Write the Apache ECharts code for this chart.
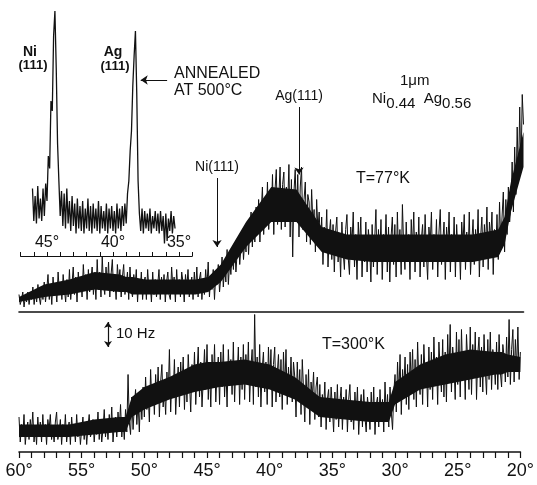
<!DOCTYPE html>
<html>
<head>
<meta charset="utf-8">
<script src="https://cdn.jsdelivr.net/npm/echarts@6/dist/echarts.min.js"></script>
<style>
  html, body { margin: 0; padding: 0; background: #fff; }
  #chart { width: 537px; height: 485px; }
</style>
</head>
<body>
<div id="chart"></div>
<script>
// recorder traces, 2-theta in degrees, sampled every 0.1 deg from 60 deg down
const scanStart = 60
const scanStep = 0.1

// T = 300 K, counting rate (Hz), one row per degree
const rate300 = [
  14, 4, 11, 6, 15, 3, 9, 12, 5, 13,
  8, 16, 4, 10, 3, 14, 7, 12, 4, 15,
  6, 11, 3, 13, 9, 15, 5, 10, 4, 12,
  16, 5, 8, 13, 3, 11, 6, 15, 4, 9,
  12, 3, 14, 7, 10, 4, 15, 6, 11, 3,
  9, 14, 5, 12, 3, 10, 15, 6, 8, 13,
  4, 11, 7, 16, 5, 13, 4, 9, 17, 6,
  12, 5, 15, 8, 18, 4, 11, 14, 6, 16,
  9, 19, 6, 13, 5, 17, 8, 31, 12, 7,
  22, 9, 18, 25, 11, 20, 8, 24, 13, 26,
  14, 30, 17, 24, 12, 33, 19, 27, 15, 31,
  20, 34, 14, 28, 35, 18, 25, 15, 32, 22,
  41, 16, 30, 23, 37, 15, 27, 34, 18, 36,
  25, 38, 17, 33, 20, 39, 28, 16, 35, 24,
  40, 19, 31, 42, 22, 36, 18, 29, 41, 25,
  43, 21, 34, 18, 39, 27, 43, 20, 32, 38,
  19, 40, 26, 43, 22, 35, 18, 41, 29, 37,
  23, 44, 20, 36, 30, 42, 19, 38, 25, 43,
  21, 39, 28, 44, 20, 34, 41, 19, 55, 26,
  38, 22, 43, 18, 33, 40, 24, 36, 19, 42,
  27, 41, 18, 35, 42, 20, 31, 39, 22, 37,
  17, 40, 25, 41, 19, 34, 23, 38, 20, 36,
  30, 14, 36, 22, 33, 15, 37, 25, 12, 31,
  19, 33, 11, 28, 22, 32, 13, 26, 30, 14,
  27, 10, 23, 17, 28, 9, 21, 25, 12, 26,
  18, 8, 24, 13, 27, 10, 20, 26, 9, 22,
  15, 25, 8, 21, 27, 12, 19, 9, 24, 14,
  26, 7, 18, 23, 10, 25, 14, 8, 22, 17,
  9, 24, 12, 26, 7, 19, 22, 10, 25, 13,
  21, 8, 28, 14, 23, 10, 26, 16, 9, 24,
  31, 16, 36, 22, 39, 15, 33, 25, 38, 19,
  35, 17, 40, 26, 41, 21, 37, 18, 44, 28,
  23, 39, 19, 43, 30, 36, 18, 42, 25, 40,
  21, 46, 28, 38, 19, 44, 33, 24, 45, 22,
  40, 20, 47, 29, 51, 24, 42, 35, 21, 48,
  27, 45, 22, 49, 31, 40, 21, 47, 36, 25,
  50, 23, 43, 30, 48, 21, 39, 46, 26, 42,
  24, 47, 33, 23, 45, 29, 48, 25, 41, 36,
  27, 44, 25, 47, 32, 26, 43, 38, 28, 46,
  30, 53, 27, 41, 49, 28, 45, 33, 50, 29,
  40
]

// T = 77 K
const rate77 = [
  7, 3, 5, 8, 2, 6, 4, 8, 3, 7,
  5, 10, 3, 8, 4, 11, 6, 3, 9, 5,
  12, 4, 9, 15, 5, 11, 3, 14, 7, 10,
  4, 16, 8, 12, 5, 15, 9, 4, 13, 6,
  17, 5, 11, 18, 7, 14, 4, 16, 9, 13,
  6, 19, 10, 15, 5, 17, 8, 13, 18, 7,
  14, 5, 21, 9, 16, 6, 22, 11, 7, 18,
  10, 20, 6, 15, 21, 8, 13, 5, 19, 12,
  17, 6, 14, 19, 7, 11, 16, 5, 18, 9,
  6, 15, 10, 17, 4, 13, 8, 16, 5, 12,
  14, 5, 17, 9, 12, 4, 16, 7, 13, 6,
  11, 17, 5, 14, 8, 15, 4, 12, 16, 7,
  5, 18, 10, 14, 4, 17, 8, 13, 6, 16,
  12, 4, 15, 9, 17, 6, 11, 14, 5, 16,
  8, 18, 6, 13, 16, 5, 12, 7, 17, 10,
  20, 6, 14, 9, 17, 5, 15, 11, 19, 8,
  14, 22, 10, 18, 12, 25, 11, 20, 15, 24,
  17, 28, 16, 24, 30, 19, 26, 32, 21, 29,
  24, 36, 23, 33, 40, 26, 38, 28, 42, 31,
  45, 28, 40, 50, 31, 44, 36, 52, 33, 47,
  38, 55, 31, 49, 57, 35, 46, 58, 33, 51,
  56, 34, 50, 42, 59, 30, 53, 22, 48, 57,
  37, 55, 30, 50, 58, 33, 45, 52, 28, 47,
  44, 27, 49, 36, 41, 24, 45, 33, 40, 26,
  38, 19, 34, 27, 41, 18, 31, 37, 21, 35,
  16, 32, 38, 20, 29, 14, 36, 24, 17, 33,
  39, 22, 15, 34, 27, 40, 18, 31, 13, 36,
  25, 38, 14, 30, 20, 36, 16, 33, 27, 12,
  35, 18, 29, 41, 15, 33, 22, 37, 13, 31,
  24, 39, 16, 34, 12, 30, 38, 19, 35, 14,
  40, 21, 33, 15, 43, 26, 17, 36, 23, 31,
  13, 37, 25, 40, 16, 32, 20, 38, 14, 29,
  35, 18, 39, 23, 13, 34, 27, 40, 17, 31,
  22, 37, 14, 32, 41, 19, 28, 36, 13, 34,
  26, 40, 16, 31, 20, 38, 14, 35, 24, 30,
  13, 36, 27, 39, 17, 32, 21, 40, 15, 28,
  37, 19, 33, 24, 41, 14, 30, 38, 18, 35,
  26, 42, 17, 36, 29, 40, 15, 33, 24, 39,
  21, 44, 27, 38, 48, 24, 45, 31, 50, 36,
  42, 60, 40, 66, 47, 74, 52, 82, 56, 87,
  75
]

// dense middle of the noise band
const coreDeg = [60, 58, 56, 54, 52, 51.5, 51, 50, 48, 46, 45, 44, 42, 40, 38, 36, 34, 32, 30.5, 30, 28, 26, 24, 22, 21.5, 21, 20]
const core300Lo = [6, 6, 6, 7, 8, 8, 14, 17, 21, 24, 25, 26, 27, 25, 21, 14, 13, 12, 12, 19, 25, 27, 29, 31, 31, 32, 32]
const core300Hi = [11, 11, 11, 13, 14, 14, 22, 26, 30, 35, 36, 36, 37, 35, 30, 22, 21, 20, 20, 28, 35, 39, 41, 40, 40, 39, 38]
const core77Lo = [4, 6, 7, 9, 8, 8, 7, 7, 7, 7, 8, 12, 26, 36, 36, 24, 21, 20, 20, 20, 20, 20, 20, 22, 27, 40, 58]
const core77Hi = [6, 11, 13, 16, 15, 14, 14, 13, 13, 13, 14, 19, 36, 50, 49, 34, 31, 31, 31, 31, 31, 31, 31, 33, 38, 52, 72]

// inset: annealed at 500 C, every 0.1 deg from 46.1 deg down
const insetStart = 46.1
const insetStep = 0.1
const insetRate = [
  27, 14, 24, 13, 28, 15, 23, 14, 27, 16,
  29, 22, 40, 35, 62, 58, 88, 98, 75, 45,
  30, 16, 26, 12, 25, 11, 27, 13, 22, 10,
  24, 12, 21, 9, 23, 11, 20, 10, 22, 9,
  19, 11, 23, 10, 20, 9, 21, 11, 19, 10,
  22, 9, 20, 11, 18, 10, 21, 9, 19, 11,
  20, 10, 18, 9, 21, 11, 19, 10, 20, 12,
  21, 13, 25, 30, 42, 50, 68, 80, 90, 65,
  30, 17, 10, 19, 9, 18, 11, 17, 10, 19,
  9, 16, 11, 18, 10, 17, 9, 18, 10, 16,
  5, 17, 6, 15, 10, 18, 9, 16, 11
]

const mainTicks = [60, 55, 50, 45, 40, 35, 30, 25, 20]
const insetTicks = [45, 40, 35]
const peakNames = ['Ni(111)', 'Ag(111)']
const peakDeg = [44.3, 37.8]
const peakArrowTop = [53.6, 82]
const peakArrowTip = [26, 55]

const ink = '#111'
const font = 'Liberation Sans, Arial, sans-serif'

function pairs (start, step, vals) {
  return vals.map((v, i) => [+(start - i * step).toFixed(2), v])
}

// solid middle of a trace: one polygon, lower edge forward, upper edge back
function band (lo, hi, xi) {
  return {
    type: 'custom', xAxisIndex: xi, yAxisIndex: xi, silent: true, clip: true,
    data: coreDeg.map((d, i) => [d, lo[i], hi[i]]),
    renderItem: function (params, api) {
      if (params.dataIndex !== 0) return null
      const pts = []
      coreDeg.forEach((d, i) => pts.push(api.coord([d, lo[i]])))
      for (let i = coreDeg.length - 1; i >= 0; i--) pts.push(api.coord([coreDeg[i], hi[i]]))
      return {type: 'polygon', shape: {points: pts}, style: {fill: ink}}
    }
  }
}

const chart = echarts.init(document.getElementById('chart'))

const option = {
  animation: false,
  backgroundColor: '#fff',
  grid: [
    {left: 19, width: 504.5, top: 92, height: 220},
    {left: 19, width: 504.5, top: 312, height: 140},
    {left: 20.6, width: 171.6, top: 6, height: 250}
  ],
  xAxis: [
    {
      gridIndex: 0, type: 'value', min: 20, max: 60, inverse: true,
      axisLine: {lineStyle: {color: ink, width: 1.6}},
      axisTick: {show: false}, axisLabel: {show: false}, splitLine: {show: false}
    },
    {
      gridIndex: 1, type: 'value', min: 20, max: 60, interval: 1, inverse: true,
      axisLine: {lineStyle: {color: ink, width: 1.6}},
      axisTick: {length: 6, lineStyle: {color: ink, width: 1.2}},
      axisLabel: {
        color: ink, fontSize: 18, fontFamily: font, margin: 10,
        formatter: v => mainTicks.includes(v) ? v + '°' : ''
      },
      splitLine: {show: false}
    },
    {
      gridIndex: 2, type: 'value', min: 34, max: 47, interval: 1, inverse: true, z: 10,
      axisLine: {lineStyle: {color: ink, width: 1.2}},
      axisTick: {inside: true, length: 4, lineStyle: {color: ink, width: 1}},
      axisLabel: {
        inside: true, color: ink, fontSize: 16, fontFamily: font, margin: 5,
        formatter: v => insetTicks.includes(v) ? v + '°' : ''
      },
      splitLine: {show: false}
    }
  ],
  yAxis: [
    {gridIndex: 0, type: 'value', min: 0, max: 88, show: false},
    {gridIndex: 1, type: 'value', min: 0, max: 56, show: false},
    {gridIndex: 2, type: 'value', min: 0, max: 100, show: false}
  ],
  series: [
    band(core77Lo, core77Hi, 0),
    band(core300Lo, core300Hi, 1),
    {
      type: 'line', xAxisIndex: 0, yAxisIndex: 0, silent: true, showSymbol: false,
      lineStyle: {color: ink, width: 1},
      data: pairs(scanStart, scanStep, rate77),
      markLine: {
        silent: true, animation: false, symbolSize: 7,
        lineStyle: {color: ink, width: 1, type: 'solid'},
        label: {show: true, position: 'start', distance: 4, formatter: '{b}', color: ink, fontSize: 14, fontFamily: font},
        data: peakNames.map((n, i) => [
          {name: n, coord: [peakDeg[i], peakArrowTop[i]], symbol: 'none'},
          {coord: [peakDeg[i], peakArrowTip[i]], symbol: 'arrow'}
        ])
      }
    },
    {
      type: 'line', xAxisIndex: 1, yAxisIndex: 1, silent: true, showSymbol: false,
      lineStyle: {color: ink, width: 1},
      data: pairs(scanStart, scanStep, rate300),
      markLine: {
        silent: true, animation: false, symbolSize: 6,
        lineStyle: {color: ink, width: 1.2, type: 'solid'},
        label: {show: false},
        data: [[
          {coord: [52.9, 52], symbol: 'arrow'},
          {coord: [52.9, 42], symbol: 'arrow'}
        ]]
      }
    },
    {
      type: 'line', xAxisIndex: 2, yAxisIndex: 2, silent: true, showSymbol: false, z: 5,
      lineStyle: {color: ink, width: 1.3},
      data: pairs(insetStart, insetStep, insetRate),
      markLine: {
        silent: true, animation: false, symbolSize: 7,
        lineStyle: {color: ink, width: 1, type: 'solid'},
        label: {show: false},
        data: [[
          {coord: [35.9, 70.4], symbol: 'none'},
          {coord: [37.9, 70.4], symbol: 'arrow'}
        ]]
      }
    }
  ],
  graphic: [
    {type: 'text', style: {text: 'Ni', x: 30, y: 45, textAlign: 'center', font: 'bold 14px ' + font, fill: ink}},
    {type: 'text', style: {text: '(111)', x: 33, y: 59, textAlign: 'center', font: 'bold 13px ' + font, fill: ink}},
    {type: 'text', style: {text: 'Ag', x: 113, y: 45, textAlign: 'center', font: 'bold 14px ' + font, fill: ink}},
    {type: 'text', style: {text: '(111)', x: 115, y: 60, textAlign: 'center', font: 'bold 13px ' + font, fill: ink}},
    {type: 'text', style: {text: 'ANNEALED', x: 174, y: 66, font: '16px ' + font, fill: ink}},
    {type: 'text', style: {text: 'AT 500°C', x: 174, y: 83, font: '16px ' + font, fill: ink}},
    {type: 'text', style: {text: '1μm', x: 400, y: 73, font: '15px ' + font, fill: ink}},
    {
      type: 'text',
      style: {
        text: 'Ni{s|0.44}  Ag{s|0.56}', x: 372, y: 86, font: '15px ' + font, fill: ink,
        rich: {s: {fontSize: 15, fontFamily: font, padding: [10, 0, 0, 0], fill: ink}}
      }
    },
    {type: 'text', style: {text: 'T=77°K', x: 356, y: 171, font: '16px ' + font, fill: ink}},
    {type: 'text', style: {text: 'T=300°K', x: 322, y: 337, font: '16px ' + font, fill: ink}},
    {type: 'text', style: {text: '10 Hz', x: 116, y: 326, font: '15px ' + font, fill: ink}}
  ]
}

chart.setOption(option)
</script>
</body>
</html>
